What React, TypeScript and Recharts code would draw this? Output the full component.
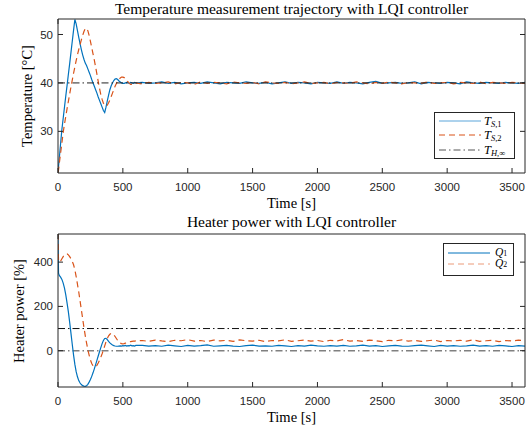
import { LineChart, Line, XAxis, YAxis, ReferenceLine, Legend } from "recharts"

// time samples [s]: dense during the transient, coarser once settled
const transientTime = [
  0, 4, 10, 20, 30, 40, 50, 60, 70, 80,
  90, 100, 110, 120, 130, 140, 150, 160, 170, 180,
  190, 200, 210, 220, 230, 240, 250, 260, 270, 280,
  290, 300, 310, 320, 330, 340, 350, 360, 370, 380,
  390, 400, 410, 420, 430, 440, 450, 460, 470, 480,
  490, 500, 510, 520, 530, 540, 550, 560, 570, 580,
  590, 600,
]
const steadyTime = [
  650, 700, 750, 800, 850, 900, 950, 1000, 1050, 1100,
  1150, 1200, 1250, 1300, 1350, 1400, 1450, 1500, 1550, 1600,
  1650, 1700, 1750, 1800, 1850, 1900, 1950, 2000, 2050, 2100,
  2150, 2200, 2250, 2300, 2350, 2400, 2450, 2500, 2550, 2600,
  2650, 2700, 2750, 2800, 2850, 2900, 2950, 3000, 3050, 3100,
  3150, 3200, 3250, 3300, 3350, 3400, 3450, 3500, 3550, 3600,
]

// sensor temperatures [°C]
const ts1Transient = [
  21.5, 22.7, 24.5, 27.5, 30.4, 32.7, 35.0, 37.3, 39.5, 41.8,
  44.0, 46.3, 48.6, 50.9, 53.1, 52.2, 50.8, 49.4, 48.1, 46.9,
  45.8, 44.9, 44.1, 43.6, 42.9, 42.2, 41.5, 40.7, 40.0, 39.3,
  38.6, 37.9, 37.1, 36.4, 35.7, 35.0, 34.3, 33.9, 35.0, 36.3,
  37.5, 38.6, 39.4, 40.0, 40.5, 40.8, 40.9, 40.7, 40.4, 40.2,
  40.0, 39.9, 39.9, 40.0, 40.1, 40.0, 39.9, 40.1, 40.0, 39.9,
  40.1, 40.0,
]
const ts1Steady = [
  40.1, 39.9, 40.0, 40.2, 39.9, 40.1, 39.8, 40.0, 40.1, 39.9,
  40.2, 40.0, 39.8, 40.1, 40.0, 39.9, 40.2, 40.0, 39.9, 40.1,
  39.8, 40.0, 40.2, 39.9, 40.1, 40.0, 39.8, 40.1, 40.0, 39.9,
  40.2, 39.9, 40.1, 40.0, 39.8, 40.1, 40.3, 39.9, 40.0, 40.1,
  39.9, 40.0, 40.2, 39.8, 40.1, 40.0, 39.9, 40.1, 40.0, 39.8,
  40.2, 40.0, 39.9, 40.1, 40.0, 39.9, 40.1, 40.0, 39.9, 40.1,
]
const ts2Transient = [
  21.5, 22.0, 23.4, 25.5, 27.6, 29.8, 31.5, 33.1, 34.7, 36.2,
  37.7, 39.2, 40.6, 42.0, 43.3, 44.6, 45.8, 46.9, 47.9, 48.9,
  49.8, 50.6, 51.2, 51.3, 50.8, 49.8, 48.6, 47.3, 46.0, 44.7,
  43.3, 41.8, 40.3, 38.9, 37.6, 36.6, 35.8, 35.4, 35.2, 35.4,
  35.9, 36.5, 37.2, 37.9, 38.6, 39.3, 39.9, 40.4, 40.8, 41.0,
  41.2, 41.2, 41.1, 40.8, 40.5, 40.2, 39.9, 39.7, 39.7, 39.8,
  39.9, 40.0,
]
const ts2Steady = [
  39.8, 40.1, 39.9, 40.0, 40.2, 39.8, 40.1, 40.0, 39.7, 40.2,
  39.9, 40.1, 40.0, 39.8, 40.2, 40.0, 39.9, 40.1, 39.8, 40.2,
  40.0, 39.9, 40.1, 39.8, 40.0, 40.2, 39.9, 40.0, 40.1, 39.8,
  40.1, 40.0, 39.9, 40.2, 40.0, 39.8, 40.1, 39.9, 40.2, 40.0,
  39.8, 40.1, 40.0, 39.9, 40.2, 39.9, 40.0, 40.1, 39.8, 40.1,
  40.0, 39.9, 40.2, 39.8, 40.1, 40.0, 39.9, 40.1, 40.0, 39.9,
]

// heater power [%]
const q1Transient = [
  525, 350, 340, 332, 322, 305, 283, 252, 215, 175,
  128, 78, 28, -20, -62, -95, -118, -135, -146, -153,
  -158, -160, -161, -158, -152, -142, -130, -116, -100, -82,
  -63, -44, -24, -5, 14, 32, 46, 55, 56, 50,
  42, 35, 30, 26, 23, 21, 20, 20, 21, 22,
  21, 23, 22, 24, 21, 23, 22, 25, 22, 23,
  21, 24,
]
const q1Steady = [
  24, 21, 23, 20, 25, 22, 19, 24, 21, 23,
  26, 20, 22, 24, 21, 19, 23, 25, 21, 22,
  20, 24, 22, 19, 23, 21, 25, 22, 20, 23,
  21, 24, 20, 22, 25, 21, 23, 19, 22, 24,
  21, 20, 23, 25, 22, 19, 24, 21, 23, 20,
  22, 25, 21, 23, 20, 24, 22, 19, 23, 21,
]
const q2Transient = [
  527, 405, 400, 405, 415, 425, 432, 436, 437, 433,
  425, 415, 403, 388, 365, 335, 300, 265, 225, 185,
  145, 105, 68, 35, 5, -20, -42, -58, -68, -73,
  -72, -66, -56, -44, -30, -14, 4, 22, 40, 55,
  67, 74, 78, 77, 72, 64, 55, 46, 39, 34,
  32, 31, 32, 34, 36, 38, 40, 41, 42, 43,
  43, 44,
]
const q2Steady = [
  46, 42, 48, 44, 41, 47, 45, 50, 43, 46,
  41, 48, 44, 47, 42, 49, 45, 43, 47, 41,
  46, 44, 49, 42, 45, 48, 43, 46, 41, 47,
  44, 50, 43, 46, 42, 48, 45, 41, 47, 44,
  49, 43, 46, 42, 45, 48, 41, 46, 44, 47,
  43, 49, 42, 45, 47, 41, 46, 44, 48, 45,
]

const T_INF = 40
const Q_UPPER = 100
const Q_LOWER = 0

const timeTicks = [0, 500, 1000, 1500, 2000, 2500, 3000, 3500]
const tempTicks = [30, 40, 50]
const powerTicks = [0, 200, 400]
const timeDomain = [0, 3600]
const tempDomain = [21.4, 53.2]
const powerDomain = [-164, 527]

const BLUE = "#0072BD"
const ORANGE = "#D95319"
const INK = "#262626"
const SANS = "'Liberation Sans', Arial, sans-serif"
const SERIF = "'Liberation Serif', 'Times New Roman', serif"
const DASH_DOT = "7 3 1.5 3"
const TL = 5

const time = [...transientTime, ...steadyTime]
const ts1 = [...ts1Transient, ...ts1Steady]
const ts2 = [...ts2Transient, ...ts2Steady]
const q1 = [...q1Transient, ...q1Steady]
const q2 = [...q2Transient, ...q2Steady]

const tempData = time.map((t, i) => ({ t, ts1: ts1[i], ts2: ts2[i] }))
const powerData = time.map((t, i) => ({ t, q1: q1[i], q2: q2[i] }))

// inward ticks, matlab style
const BottomTick = ({ x, y, payload }: any) => (
  <g>
    <line x1={x} y1={y} x2={x} y2={y - TL} stroke={INK} />
    <text x={x} y={y + 14} dy="0.35em" textAnchor="middle" fontSize={11.5} fontFamily={SANS} fill={INK}>
      {payload.value}
    </text>
  </g>
)
const TopTick = ({ x, y }: any) => <line x1={x} y1={y} x2={x} y2={y + TL} stroke={INK} />
const LeftTick = ({ x, y, payload }: any) => (
  <g>
    <line x1={x} y1={y} x2={x + TL} y2={y} stroke={INK} />
    <text x={x - 5} y={y} dy="0.35em" textAnchor="end" fontSize={11.5} fontFamily={SANS} fill={INK}>
      {payload.value}
    </text>
  </g>
)
const RightTick = ({ x, y }: any) => <line x1={x} y1={y} x2={x - TL} y2={y} stroke={INK} />

const topLegend = [
  { base: "T", subIt: "S", sub: ",1", color: "#5aa5da", dash: undefined },
  { base: "T", subIt: "S", sub: ",2", color: ORANGE, dash: "6 4" },
  { base: "T", subIt: "H", sub: ",∞", color: "#555", dash: DASH_DOT },
]
const bottomLegend = [
  { base: "Q", subIt: "", sub: "1", color: BLUE, dash: undefined },
  { base: "Q", subIt: "", sub: "2", color: "#eb9a78", dash: "6 4" },
]

function LegendBox({ items, w, h, rows, textX, fs }: any) {
  return (
    <svg width={w} height={h} style={{ display: "block" }}>
      <rect x={0.5} y={0.5} width={w - 1} height={h - 1} fill="#fff" stroke={INK} />
      {items.map((it: any, i: number) => (
        <g key={i}>
          <line x1={5} x2={47} y1={rows[i]} y2={rows[i]} stroke={it.color} strokeWidth={1} strokeDasharray={it.dash} />
          <text x={textX} y={rows[i]} dy="0.3em" fontFamily={SERIF} fontSize={fs} fontStyle="italic" fill="#000">
            {it.base}
            <tspan fontSize={fs * 0.68} dy={2.5}>{it.subIt}</tspan>
            <tspan fontSize={fs * 0.68} fontStyle="normal">{it.sub}</tspan>
          </text>
        </g>
      ))}
    </svg>
  )
}

const txt = (top: number, text: string, size: number) => (
  <div style={{ position: "absolute", left: 58, width: 467, top, textAlign: "center", fontFamily: SERIF, fontSize: size, lineHeight: "17px", color: "#000", whiteSpace: "nowrap" }}>
    {text}
  </div>
)
const ylab = (cx: number, cy: number, text: string) => (
  <div style={{ position: "absolute", left: cx - 100, top: cy - 8, width: 200, height: 16, textAlign: "center", fontFamily: SERIF, fontSize: 14.5, lineHeight: "16px", color: "#000", transform: "rotate(-90deg)", whiteSpace: "nowrap" }}>
    {text}
  </div>
)

function Axes({ yDomain, yTicks }: any) {
  return [
    <XAxis key="xb" dataKey="t" type="number" domain={timeDomain} ticks={timeTicks} interval={0} allowDataOverflow height={1} tickSize={0} tickMargin={0} tickLine={false} axisLine={{ stroke: INK }} tick={<BottomTick />} />,
    <XAxis key="xt" xAxisId="top" orientation="top" type="number" domain={timeDomain} ticks={timeTicks} interval={0} allowDataOverflow height={1} tickSize={0} tickMargin={0} tickLine={false} axisLine={{ stroke: INK }} tick={<TopTick />} />,
    <YAxis key="yl" type="number" domain={yDomain} ticks={yTicks} interval={0} allowDataOverflow width={1} tickSize={0} tickMargin={0} tickLine={false} axisLine={{ stroke: INK }} tick={<LeftTick />} />,
    <YAxis key="yr" yAxisId="r" orientation="right" type="number" domain={yDomain} ticks={yTicks} interval={0} allowDataOverflow width={1} tickSize={0} tickMargin={0} tickLine={false} axisLine={{ stroke: INK }} tick={<RightTick />} />,
  ]
}

export default function App() {
  return (
    <div style={{ position: "absolute", left: 0, top: 0, width: 531, height: 429, background: "#fff", overflow: "hidden" }}>
      {txt(0, "Temperature measurement trajectory with LQI controller", 15.5)}
      {txt(195, "Time [s]", 14.5)}
      {txt(213, "Heater power with LQI controller", 15.5)}
      {txt(409, "Time [s]", 14.5)}
      {ylab(27, 96, "Temperature [°C]")}
      {ylab(19, 311, "Heater power [%]")}

      <div style={{ position: "absolute", left: 0, top: 0 }}>
        <LineChart width={531} height={200} data={tempData} margin={{ top: 18, right: 5, bottom: 26, left: 57 }}>
          {Axes({ yDomain: tempDomain, yTicks: tempTicks })}
          <Line type="linear" dataKey="ts1" stroke={BLUE} strokeWidth={1.2} dot={false} isAnimationActive={false} />
          <Line type="linear" dataKey="ts2" stroke={ORANGE} strokeWidth={1.2} strokeDasharray="6 4" dot={false} isAnimationActive={false} />
          <ReferenceLine y={T_INF} stroke="#222" strokeWidth={1} strokeDasharray={DASH_DOT} />
          <Legend
            layout="horizontal"
            verticalAlign="middle"
            align="center"
            wrapperStyle={{ left: 434, top: 112, width: 81, height: 47 }}
            content={() => <LegendBox items={topLegend} w={81} h={47} rows={[9, 23, 38]} textX={50} fs={12.5} />}
          />
        </LineChart>
      </div>

      <div style={{ position: "absolute", left: 0, top: 215 }}>
        <LineChart width={531} height={200} data={powerData} margin={{ top: 18, right: 5, bottom: 27, left: 57 }}>
          {Axes({ yDomain: powerDomain, yTicks: powerTicks })}
          <ReferenceLine y={Q_UPPER} stroke="#111" strokeWidth={1} strokeDasharray={DASH_DOT} />
          <ReferenceLine y={Q_LOWER} stroke="#808080" strokeWidth={1.6} strokeDasharray={DASH_DOT} />
          <Line type="linear" dataKey="q1" stroke={BLUE} strokeWidth={1.2} dot={false} isAnimationActive={false} />
          <Line type="linear" dataKey="q2" stroke={ORANGE} strokeWidth={1.2} strokeDasharray="6 4" dot={false} isAnimationActive={false} />
          <Legend
            layout="horizontal"
            verticalAlign="middle"
            align="center"
            wrapperStyle={{ left: 443, top: 28, width: 71, height: 33 }}
            content={() => <LegendBox items={bottomLegend} w={71} h={33} rows={[10, 21]} textX={52} fs={11.5} />}
          />
        </LineChart>
      </div>
    </div>
  )
}
